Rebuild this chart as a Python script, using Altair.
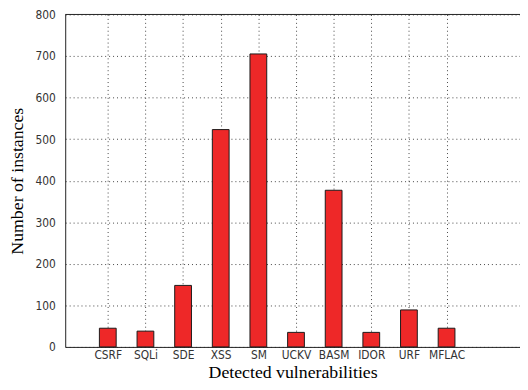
import altair as alt
import pandas as pd

categories = ["CSRF", "SQLi", "SDE", "XSS", "SM", "UCKV", "BASM", "IDOR", "URF", "MFLAC"]
positions = [1, 2, 3, 4, 5, 6, 7, 8, 9, 10]
instances = [45, 38, 148, 523, 705, 35, 377, 35, 89, 45]
y_ticks = [0, 100, 200, 300, 400, 500, 600, 700, 800]

df = pd.DataFrame({"pos": positions, "name": categories, "value": instances})
top_df = pd.DataFrame({"top": [800]})

label_expr = "[" + ",".join("'" + c + "'" for c in categories) + "][datum.value - 1]"
sans = "Liberation Sans Narrow, DejaVu Sans Condensed, Liberation Sans"
serif = "Liberation Serif"

x_scale = alt.Scale(domain=[0, 11.82], nice=False, zero=True)
y_scale = alt.Scale(domain=[0, 800], nice=False)

bars = alt.Chart(df).mark_bar(size=17, color="#ee2828", stroke="#1a1a1a", strokeWidth=1).encode(
    x=alt.X("pos:Q", scale=x_scale, title="Detected vulnerabilities",
            axis=alt.Axis(values=positions, labelExpr=label_expr, grid=True,
                          gridColor="#444", gridDash=[1, 3], gridWidth=1,
                          ticks=False, labelPadding=3, domainColor="#222",
                          labelFont=sans, labelFontSize=12, labelColor="#333",
                          titleFont=serif, titleFontSize=18, titleFontWeight="normal",
                          titleColor="#000", titlePadding=3)),
    y=alt.Y("value:Q", scale=y_scale, title="Number of instances",
            axis=alt.Axis(values=y_ticks, grid=True, gridColor="#444", gridDash=[1, 3],
                          gridWidth=1, ticks=False, labelPadding=10, domainColor="#222",
                          labelFont=sans, labelFontSize=12, labelColor="#333",
                          titleFont=serif, titleFontSize=18, titleFontWeight="normal",
                          titleColor="#000", titlePadding=9)),
)

top_line = alt.Chart(top_df).mark_rule(color="#222", strokeWidth=1).encode(
    y=alt.Y("top:Q", scale=y_scale)
)

chart = alt.layer(bars, top_line).properties(
    width=461, height=337,
    autosize=alt.AutoSizeParams(type="none"),
    padding={"left": 58, "top": 4, "right": 0, "bottom": 33},
).configure_view(stroke=None)

chart.save("out.html", embed_options={"renderer": "svg", "actions": False})
